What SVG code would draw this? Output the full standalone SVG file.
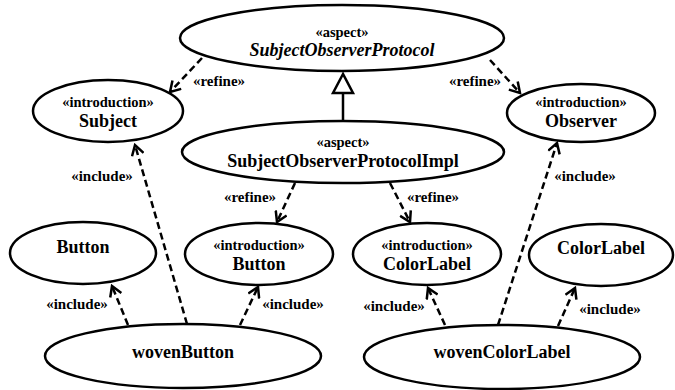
<svg xmlns="http://www.w3.org/2000/svg" width="675" height="390" viewBox="0 0 675 390">
<style>
.n{fill:#fff;stroke:#000;stroke-width:2.5}
.st{font-family:"Liberation Serif",serif;font-weight:bold;font-size:14.5px;text-anchor:middle}
.nm{font-family:"Liberation Serif",serif;font-weight:bold;font-size:18px;text-anchor:middle}
.it{font-style:italic}
.e{fill:none;stroke:#000;stroke-width:2.5;stroke-dasharray:7 4}
.lb{font-family:"Liberation Serif",serif;font-weight:bold;font-size:15px;text-anchor:middle}
</style>
<defs>
<marker id="open" markerUnits="userSpaceOnUse" viewBox="-12 -7 14 14" refX="0" refY="0" markerWidth="14" markerHeight="14" orient="auto">
<path d="M-10,-6 L0,0 L-10,6" fill="none" stroke="#000" stroke-width="2.5"/>
</marker>
</defs>
<g id="connectors">
<line class="e" x1="202" y1="58" x2="170" y2="92" marker-end="url(#open)"/>
<line class="e" x1="490" y1="60" x2="520" y2="93" marker-end="url(#open)"/>
<line x1="343" y1="121" x2="343" y2="93" stroke="#000" stroke-width="2.5"/>
<polygon points="343,74 333,93 353,93" fill="#fff" stroke="#000" stroke-width="2.5"/>
<line class="e" x1="295" y1="183" x2="277" y2="222" marker-end="url(#open)"/>
<line class="e" x1="390" y1="183" x2="410" y2="222" marker-end="url(#open)"/>
<line class="e" x1="187" y1="324" x2="135" y2="145" marker-end="url(#open)"/>
<line class="e" x1="128" y1="325" x2="112" y2="286" marker-end="url(#open)"/>
<line class="e" x1="240" y1="325" x2="258" y2="287" marker-end="url(#open)"/>
<line class="e" x1="445" y1="325" x2="428" y2="288" marker-end="url(#open)"/>
<line class="e" x1="498" y1="325" x2="557" y2="143" marker-end="url(#open)"/>
<line class="e" x1="558" y1="326" x2="575" y2="288" marker-end="url(#open)"/>
<text class="lb" x="219" y="86">«refine»</text>
<text class="lb" x="475" y="86">«refine»</text>
<text class="lb" x="102" y="181">«include»</text>
<text class="lb" x="585" y="181">«include»</text>
<text class="lb" x="250" y="202">«refine»</text>
<text class="lb" x="433" y="202">«refine»</text>
<text class="lb" x="77" y="309">«include»</text>
<text class="lb" x="293" y="309">«include»</text>
<text class="lb" x="394" y="311">«include»</text>
<text class="lb" x="610" y="314">«include»</text>
</g>
<g id="SubjectObserverProtocol">
<ellipse class="n" cx="342" cy="38" rx="162" ry="33"/>
<text class="st" x="342" y="37">«aspect»</text>
<text class="nm it" x="342" y="56">SubjectObserverProtocol</text>
</g>
<g id="Subject">
<ellipse class="n" cx="108" cy="111" rx="75" ry="31"/>
<text class="st" x="108" y="107">«introduction»</text>
<text class="nm" x="108" y="127">Subject</text>
</g>
<g id="Observer">
<ellipse class="n" cx="581" cy="113" rx="74" ry="29"/>
<text class="st" x="581" y="107">«introduction»</text>
<text class="nm" x="581" y="127">Observer</text>
</g>
<g id="SubjectObserverProtocolImpl">
<ellipse class="n" cx="343" cy="152" rx="161" ry="31"/>
<text class="st" x="343" y="147">«aspect»</text>
<text class="nm" x="343" y="167">SubjectObserverProtocolImpl</text>
</g>
<g id="Button">
<ellipse class="n" cx="83" cy="253" rx="73" ry="31"/>
<text class="nm" x="83" y="253">Button</text>
</g>
<g id="IntroButton">
<ellipse class="n" cx="259" cy="254" rx="74" ry="31"/>
<text class="st" x="259" y="250">«introduction»</text>
<text class="nm" x="259" y="270">Button</text>
</g>
<g id="IntroColorLabel">
<ellipse class="n" cx="427" cy="254" rx="74" ry="31"/>
<text class="st" x="427" y="250">«introduction»</text>
<text class="nm" x="427" y="270">ColorLabel</text>
</g>
<g id="ColorLabel">
<ellipse class="n" cx="601" cy="255" rx="72" ry="31"/>
<text class="nm" x="601" y="254">ColorLabel</text>
</g>
<g id="wovenButton">
<ellipse class="n" cx="183" cy="356" rx="138" ry="32"/>
<text class="nm" x="183" y="358">wovenButton</text>
</g>
<g id="wovenColorLabel">
<ellipse class="n" cx="502" cy="357" rx="138" ry="32"/>
<text class="nm" x="502" y="358">wovenColorLabel</text>
</g>
</svg>
